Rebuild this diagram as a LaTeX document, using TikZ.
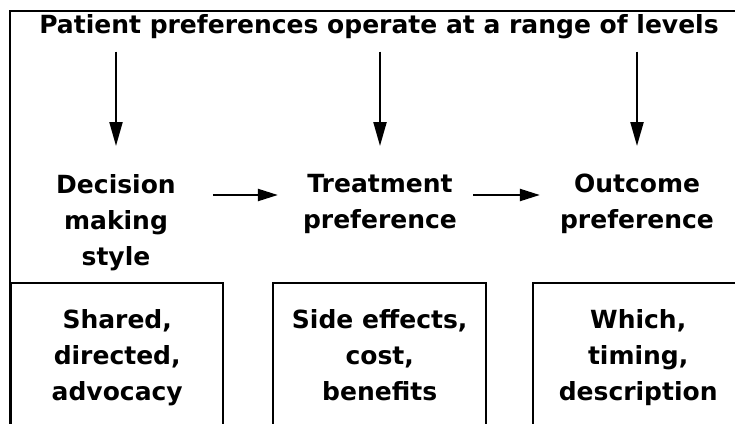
\documentclass[tikz,border=0pt]{standalone}
\usepackage{fontspec}
\setmainfont{DejaVu Sans}
\usetikzlibrary{arrows.meta}
\begin{document}
\begin{tikzpicture}[x=1pt,y=-1pt,
  every node/.style={inner sep=0pt, font=\bfseries\fontsize{25}{36}\selectfont},
  level/.style={align=center, anchor=north},
  detail/.style={align=center, anchor=north},
  frameline/.style={line width=2pt},
  boxframe/.style={draw, line width=2.4pt, rectangle, anchor=north west, minimum height=170pt},
  flow/.style={line width=2.2pt, -{Triangle[length=24pt,width=13pt]}},
  chain/.style={line width=2.2pt, -{Triangle[length=20pt,width=12pt]}}]

\useasboundingbox (0,0) rectangle (735,423);
\clip (0,0) rectangle (735,423);

% open outer frame: left and top sides only
\draw[frameline] (10,440) |- (745,11);

% heading
\node[anchor=base] (title) at (379,33) {Patient preferences operate at a range of levels};

% the three levels
\node[level] (dec)   at (116,174) {Decision\\making\\style};
\node[level] (treat) at (380,174) {Treatment\\preference};
\node[level] (out)   at (637,174) {Outcome\\preference};

% heading feeds each level
\draw[flow, shorten <=13pt, shorten >=28pt] (title.south -| dec.north) -- (dec.north);
\draw[flow, shorten <=13pt, shorten >=28pt] (title.south -| treat.north) -- (treat.north);
\draw[flow, shorten <=13pt, shorten >=28pt] (title.south -| out.north) -- (out.north);

% links between levels
\coordinate (row) at (0,195);
\draw[chain, shorten <=37pt, shorten >=25pt] (dec.east |- row) -- (treat.west |- row);
\draw[chain, shorten <=16pt, shorten >=20pt] (treat.east |- row) -- (out.west |- row);

% detail boxes (open at the bottom edge)
\node[boxframe, minimum width=212pt] (b1) at (10,282) {};
\node[boxframe, minimum width=213pt] (b2) at (272,282) {};
\node[boxframe, minimum width=210pt] (b3) at (532,282) {};

\node[detail] (b1t) at ([yshift=-27pt]b1.north) {Shared,\\directed,\\advocacy};
\node[detail] (b2t) at ([yshift=-27pt]b2.north) {Side effects,\\cost,\\benefits};
\node[detail] (b3t) at ([yshift=-27pt]b3.north) {Which,\\timing,\\description};
\end{tikzpicture}
\end{document}
